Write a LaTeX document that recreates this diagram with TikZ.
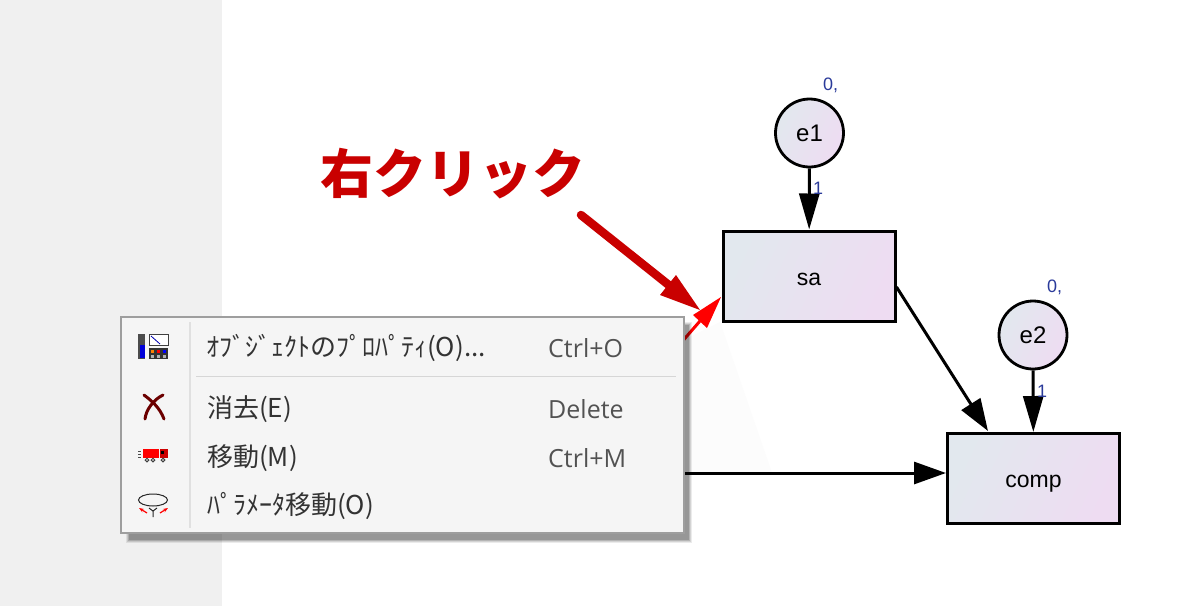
\documentclass[tikz,border=0pt]{standalone}
\usepackage{fontspec}
\setmainfont{Liberation Sans}
\newfontfamily\cjk{Noto Sans CJK JP}
\newfontfamily\ui{Open Sans}
\usetikzlibrary{arrows.meta,shadows}
\definecolor{gL}{HTML}{E2E8EE}
\definecolor{gR}{HTML}{EEDCF2}
\definecolor{navy}{HTML}{2A3A9A}
\definecolor{darkred}{HTML}{C90000}
\newcommand{\lowered}[1]{\smash{\raisebox{-9pt}{#1}}}
\tikzset{
  x=1pt,y=-1pt,
  obs/.style={draw=black,line width=3pt,minimum width=172pt,minimum height=90pt,inner sep=0pt,shade,left color=gL,right color=gR,shading angle=65,font=\fontsize{23}{27}\selectfont},
  err/.style={draw=black,line width=2.8pt,circle,minimum size=68pt,inner sep=0pt,shade,left color=gL,right color=gR,shading angle=65,font=\fontsize{24}{28}\selectfont},
  par/.style={text=navy,font=\fontsize{18}{21}\selectfont,inner sep=0pt},
  path/.style={draw=black,line width=3pt,-{Triangle[length=36pt,width=20pt]}},
  pathb/.style={draw=black,line width=3pt,-{Triangle[length=32pt,width=22pt]}},
  item/.style={anchor=west,inner sep=0pt,text=black!80,font=\cjk\fontsize{26}{30}\selectfont},
  short/.style={anchor=west,inner sep=0pt,text=black!68,font=\ui\fontsize{25}{29}\selectfont},
}
\begin{document}
\begin{tikzpicture}
\useasboundingbox (0,0) rectangle (1200,606);
\fill[white] (0,0) rectangle (1200,606);
\fill[black!6] (0,0) rectangle (222,606);
% faint shadow wedge
\fill[black!1] (720,322) -- (772,473) -- (684,473) -- (684,340) -- cycle;
% nodes
\node[err] (e1) at (809.5,133) {e1};
\node[obs] (sa) at (809,276) {\lowered{sa}};
\node[err] (e2) at (1033,335) {e2};
\node[obs] (comp) at (1033.5,478.5) {\lowered{comp}};
\coordinate (hid) at (600,473);
\coordinate (redtail) at (640,390);
\coordinate (bigtail) at (581,215);
\coordinate (bighead) at (700,310);
\coordinate (redhead) at (721,297);
% connectors
\draw[path] (e1) -- (sa);
\draw[path] (e2) -- (comp);
\draw[pathb] (sa.east |- 0,287) -- (988,431);
\draw[pathb] (hid) -- (comp.west |- hid);
\node[par,anchor=west] (p1) at (823,85) {0,};
\node[par,anchor=west] (p2) at (1047,287) {0,};
\node[par,anchor=west] (o1) at (813,188) {1};
\node[par,anchor=west] (o2) at (1037,391) {1};
% click arrows
\draw[darkred,line width=8.5pt,line cap=round] (bigtail) -- (670,286);
\fill[darkred] (bighead) -- (660,295) -- (676,275) -- cycle;
\draw[red,line width=3pt] (redtail) -- (700,321);
\fill[red] (redhead) -- (693,315) -- (707,328) -- cycle;
\node[anchor=west,inner sep=0pt,text=darkred,font=\cjk\bfseries\fontsize{53}{60}\selectfont] (title) at (320,174) {右クリック};
% menu
\foreach \d/\o in {0/.08,1/.10,2/.14,3/.16}{
  \fill[black,opacity=\o] (126+\d,322+\d) rectangle (692-\d,543-\d);
}
\node[draw=black!38,line width=2pt,fill=black!4,minimum width=563pt,minimum height=216pt,inner sep=0pt] (menu) at (402.5,425) {};
\draw[black!12,line width=1.5pt] (190,322) -- (190,528);
\draw[black!16,line width=1.5pt] (196,376.5) -- (676,376.5);
\node[item] (m1) at (206,348) {ｵﾌﾞｼﾞｪｸﾄのﾌﾟﾛﾊﾟﾃｨ(O)...};
\node[short] (s1) at (548,348) {Ctrl+O};
\node[item] (m2) at (207,409) {消去(E)};
\node[short] (s2) at (548,409) {Delete};
\node[item] (m3) at (207,458) {移動(M)};
\node[short] (s3) at (548,458) {Ctrl+M};
\node[item] (m4) at (207,506) {ﾊﾟﾗﾒｰﾀ移動(O)};
% icon properties
\fill[black!70] (138,334) rectangle (145,359);
\fill[blue!85!black] (140,345) rectangle (145,358);
\draw[black!75,fill=white,line width=.8pt] (149,334.5) rectangle (168,345);
\draw[blue!70!black,line width=.8pt] (151,336) -- (160,344);
\fill[black!80] (149,348) rectangle (168,359);
\foreach \x/\c in {150.5/orange,156.5/red,162.5/blue}{
  \fill[\c] (\x,349.5) rectangle ++(3.5,3);
  \fill[white!70!black] (\x,354.5) rectangle ++(3.5,3);
}
% icon delete
\draw[black!50!red!85!black,line width=3pt,line cap=round] (144,395) .. controls (152,401) and (160,408) .. (164,419);
\draw[black!50!red!85!black,line width=3pt,line cap=round] (163,395) .. controls (153,400) and (146,410) .. (145,419);
% icon move
\fill[red] (143,449) rectangle (159,458);
\fill[red!80!black] (160,449) rectangle (168,458);
\fill[black] (161,451) rectangle (164,454);
\draw[black!70,line width=.8pt] (138,451) -- (141,451) (138,454) -- (141,454) (138,457) -- (141,457);
\foreach \x in {147,153,163} \draw[black!75,line width=1pt] (\x,460) circle (1.8);
% icon param move
\draw[black!85,line width=1pt] (153,500) ellipse (14.5 and 6);
\draw[black!85,line width=1pt] (153,517) -- (153,511) -- (149,508) (153,511) -- (157,508);
\draw[red,line width=1.2pt,{Stealth[length=5pt]}-] (139,508) -- (147,513);
\draw[red,line width=1.2pt,{Stealth[length=5pt]}-] (168,508) -- (160,513);
\end{tikzpicture}
\end{document}
